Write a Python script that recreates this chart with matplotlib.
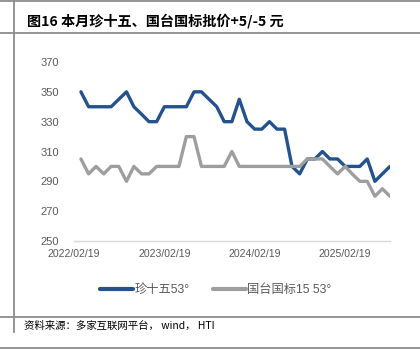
import matplotlib
matplotlib.use("Agg")
import matplotlib.pyplot as plt
from matplotlib.lines import Line2D
import pandas as pd

plt.rcParams['font.family'] = ['Liberation Sans', 'Noto Sans CJK SC', 'DejaVu Sans']

title = "图16 本月珍十五、国台国标批价+5/-5 元"
source = "资料来源：多家互联网平台， wind， HTI"
series_names = ["珍十五53°", "国台国标15 53°"]

dates = pd.date_range("2022-03-19", periods=42, freq=pd.DateOffset(months=1))
zhen15 = [350, 340, 340, 340, 340, 345, 350, 340, 335, 330, 330, 340,
          340, 340, 340, 350, 350, 345, 340, 330, 330, 345, 330, 325,
          325, 330, 325, 325, 300, 295, 305, 305, 310, 305, 305, 300,
          300, 300, 305, 290, 295, 300]
guotai = [305, 295, 300, 295, 300, 300, 290, 300, 295, 295, 300, 300,
          300, 300, 320, 320, 300, 300, 300, 300, 310, 300, 300, 300,
          300, 300, 300, 300, 300, 300, 305, 305, 305, 300, 295, 300,
          295, 290, 290, 280, 285, 280]
xtick_labels = ["2022/02/19", "2023/02/19", "2024/02/19", "2025/02/19"]
yticks = [250, 270, 290, 310, 330, 350, 370]

W, H = 420, 351
fig = plt.figure(figsize=(W / 100, H / 100), dpi=100, facecolor='white')

left, right, bottom, top = 74, 390, 241, 62
ax = fig.add_axes([left / W, 1 - bottom / H, (right - left) / W, (bottom - top) / H])

ax.plot(dates, zhen15, color='#23528C', lw=2.4, solid_joinstyle='round',
        solid_capstyle='round', label=series_names[0])
ax.plot(dates, guotai, color='#9E9E9E', lw=2.4, solid_joinstyle='round',
        solid_capstyle='round', label=series_names[1])

ax.set_ylim(250, 370)
ax.set_yticks(yticks)
xt = pd.to_datetime(xtick_labels, format="%Y/%m/%d")
ax.set_xlim(xt[0], dates[-1])
ax.set_xticks(xt)
ax.set_xticklabels(xtick_labels)

for s in ['top', 'right', 'left']:
    ax.spines[s].set_visible(False)
ax.spines['bottom'].set_color('#D9D9D9')
ax.spines['bottom'].set_linewidth(1.0)
ax.tick_params(axis='y', length=0, pad=11, labelsize=8, labelcolor='#595959')
ax.tick_params(axis='x', length=0, pad=6, labelsize=7.6, labelcolor='#595959')
ax.patch.set_alpha(0)

leg = fig.legend(loc='center', bbox_to_anchor=(216 / W, 1 - 290 / H), ncol=2,
                 frameon=False, fontsize=8.8, handlelength=2.7, handletextpad=0.1,
                 columnspacing=1.9, labelcolor='#595959')
for h in leg.legend_handles:
    h.set_linewidth(3.0)
    h.set_solid_capstyle('round')

fig.text(27 / W, 1 - 21 / H, title, fontsize=10.2, fontweight='bold',
         family=['Noto Sans CJK SC', 'DejaVu Sans'], va='center', ha='left', color='#000000')
fig.text(24 / W, 1 - 326 / H, source, fontsize=7.5,
         family=['Noto Sans CJK SC', 'DejaVu Sans'], va='center', ha='left', color='#000000')

lc = '#8C8C8C'
for yy in [1, 33, 317, 348]:
    fig.add_artist(Line2D([0, 1], [1 - yy / H, 1 - yy / H], transform=fig.transFigure,
                          color=lc, lw=1.3))
fig.add_artist(Line2D([14 / W, 14 / W], [1, 1 - 332 / H], transform=fig.transFigure,
                      color=lc, lw=1.3))

fig.savefig("out.png", dpi=100, facecolor='white')
